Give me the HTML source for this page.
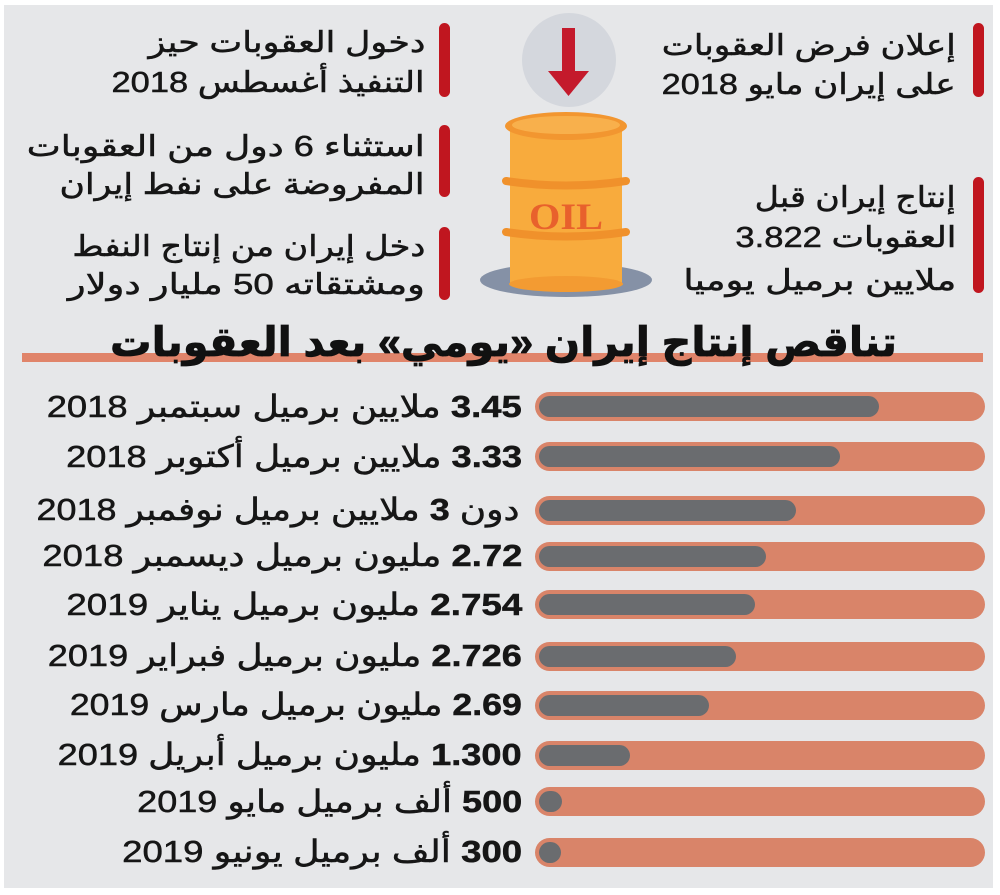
<!DOCTYPE html>
<html><head><meta charset="utf-8">
<style>
html,body{margin:0;padding:0;}
body{width:1000px;height:895px;background:#fff;position:relative;overflow:hidden;font-family:"Liberation Sans","DejaVu Sans",sans-serif;color:#161616;}
#panel{position:absolute;left:4px;top:5px;width:989px;height:883px;background:#e6e7e9;}
.t{position:absolute;direction:rtl;text-align:right;white-space:nowrap;}
.t span{display:inline-block;white-space:nowrap;transform-origin:100% 50%;}
.top{font-size:29px;height:40px;line-height:40px;-webkit-text-stroke:0.5px #161616;}
.row{font-size:31px;height:40px;line-height:40px;-webkit-text-stroke:0.5px #161616;}
.title{font-size:41px;font-weight:bold;height:50px;line-height:50px;color:#111;-webkit-text-stroke:0.8px #111;}
.rb{position:absolute;width:11px;background:#c0161f;border-radius:6px;}
.bar{position:absolute;left:535px;width:450px;height:29px;border-radius:15px;background:#d98469;}
.g{position:absolute;left:539px;height:21px;border-radius:11px;background:#6a6c6f;}
b{font-weight:bold;}
</style></head>
<body>
<div id="panel"></div>

<!-- red markers -->
<div class="rb" style="left:439px;top:23px;height:74px"></div>
<div class="rb" style="left:439px;top:125px;height:72px"></div>
<div class="rb" style="left:439px;top:227px;height:73px"></div>
<div class="rb" style="left:973px;top:23px;height:74px"></div>
<div class="rb" style="left:973px;top:177px;height:116px"></div>

<!-- top left texts -->
<div class="t top" style="left:148px;width:277px;top:23px"><span>دخول العقوبات حيز</span></div>
<div class="t top" style="left:112px;width:313px;top:63px"><span>التنفيذ أغسطس 2018</span></div>
<div class="t top" style="left:27px;width:398px;top:127px"><span>استثناء 6 دول من العقوبات</span></div>
<div class="t top" style="left:60px;width:365px;top:165px"><span>المفروضة على نفط إيران</span></div>
<div class="t top" style="left:72px;width:353px;top:227px"><span>دخل إيران من إنتاج النفط</span></div>
<div class="t top" style="left:68px;width:357px;top:265px"><span>ومشتقاته 50 مليار دولار</span></div>

<!-- top right texts -->
<div class="t top" style="left:662px;width:294px;top:26px"><span>إعلان فرض العقوبات</span></div>
<div class="t top" style="left:662px;width:294px;top:65px"><span>على إيران مايو 2018</span></div>
<div class="t top" style="left:755px;width:201px;top:178px"><span>إنتاج إيران قبل</span></div>
<div class="t top" style="left:735px;width:221px;top:218px"><span>العقوبات 3.822</span></div>
<div class="t top" style="left:683px;width:273px;top:261px"><span>ملايين برميل يوميا</span></div>

<!-- barrel illustration -->
<svg style="position:absolute;left:0;top:0" width="1000" height="320" viewBox="0 0 1000 320">
  <circle cx="569" cy="60" r="47" fill="#d4d7dd"/>
  <rect x="562" y="28" width="13" height="46" fill="#c41a2c"/>
  <polygon points="548,71 589,71 568.5,96" fill="#c41a2c"/>
  <ellipse cx="566" cy="280" rx="86" ry="17" fill="#8591a6"/>
  <rect x="510" y="126" width="112" height="158" fill="#f8ab3d"/>
  <ellipse cx="566" cy="284" rx="57" ry="8" fill="#f39b32"/>
  <path d="M506,181 Q566,190 626,181" stroke="#f0912b" stroke-width="8" fill="none" stroke-linecap="round"/>
  <path d="M506,232 Q566,241 626,232" stroke="#f0912b" stroke-width="8" fill="none" stroke-linecap="round"/>
  <ellipse cx="566" cy="126" rx="61" ry="14" fill="#f29630"/>
  <ellipse cx="566" cy="125" rx="54" ry="9" fill="#f8b04c"/>
  <text x="566" y="229" text-anchor="middle" font-family="Liberation Serif, serif" font-weight="bold" font-size="37" fill="#e8612c" textLength="74" lengthAdjust="spacingAndGlyphs">OIL</text>
</svg>

<!-- title -->
<div style="position:absolute;left:22px;top:353px;width:961px;height:9px;background:#e0846a"></div>
<div class="t title" style="left:110px;width:787px;top:317px"><span>تناقص إنتاج إيران «يومي» بعد العقوبات</span></div>

<!-- bars -->
<div class="bar" style="top:392px"></div><div class="g" style="top:396px;width:340px"></div>
<div class="bar" style="top:442px"></div><div class="g" style="top:446px;width:301px"></div>
<div class="bar" style="top:496px"></div><div class="g" style="top:500px;width:257px"></div>
<div class="bar" style="top:542px"></div><div class="g" style="top:546px;width:227px"></div>
<div class="bar" style="top:590px"></div><div class="g" style="top:594px;width:216px"></div>
<div class="bar" style="top:642px"></div><div class="g" style="top:646px;width:197px"></div>
<div class="bar" style="top:691px"></div><div class="g" style="top:695px;width:170px"></div>
<div class="bar" style="top:741px"></div><div class="g" style="top:745px;width:91px"></div>
<div class="bar" style="top:787px"></div><div class="g" style="top:791px;width:23px"></div>
<div class="bar" style="top:838px"></div><div class="g" style="top:842px;width:22px"></div>

<!-- row labels -->
<div class="t row" style="left:47px;width:475px;top:387px"><span><b>3.45</b> ملايين برميل سبتمبر 2018</span></div>
<div class="t row" style="left:66px;width:456px;top:437px"><span><b>3.33</b> ملايين برميل أكتوبر 2018</span></div>
<div class="t row" style="left:37px;width:483px;top:490px"><span>دون <b>3</b> ملايين برميل نوفمبر 2018</span></div>
<div class="t row" style="left:42px;width:480px;top:536px"><span><b>2.72</b> مليون برميل ديسمبر 2018</span></div>
<div class="t row" style="left:66px;width:456px;top:585px"><span><b>2.754</b> مليون برميل يناير 2019</span></div>
<div class="t row" style="left:48px;width:474px;top:636px"><span><b>2.726</b> مليون برميل فبراير 2019</span></div>
<div class="t row" style="left:70px;width:452px;top:685px"><span><b>2.69</b> مليون برميل مارس 2019</span></div>
<div class="t row" style="left:58px;width:464px;top:735px"><span><b>1.300</b> مليون برميل أبريل 2019</span></div>
<div class="t row" style="left:137px;width:385px;top:782px"><span><b>500</b> ألف برميل مايو 2019</span></div>
<div class="t row" style="left:122px;width:400px;top:832px"><span><b>300</b> ألف برميل يونيو 2019</span></div>

<script>
(function(){
  var els=document.querySelectorAll('.t');
  for(var i=0;i<els.length;i++){
    var el=els[i], s=el.firstElementChild;
    var target=el.clientWidth;
    var w=s.getBoundingClientRect().width;
    if(w>0){ s.style.transform='scaleX('+(target/w)+')'; }
  }
})();
</script>
</body></html>
